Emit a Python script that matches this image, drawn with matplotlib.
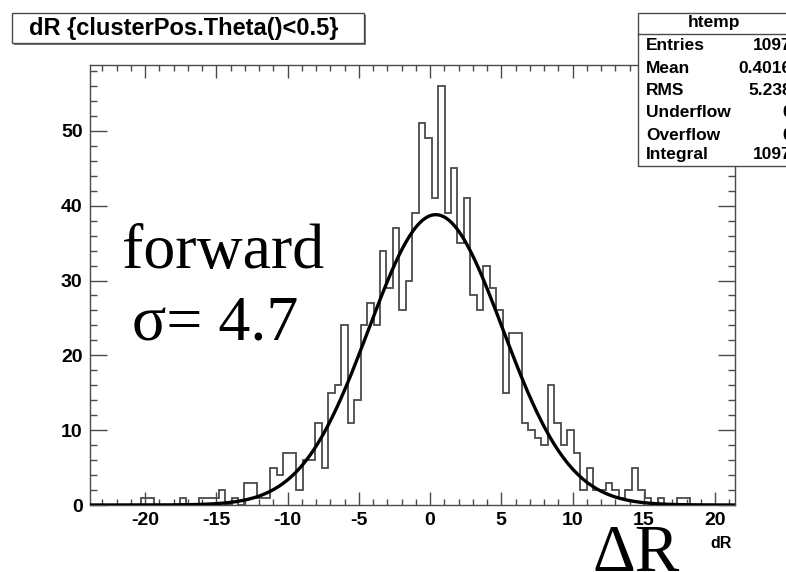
import numpy as np
import matplotlib
matplotlib.use('Agg')
import matplotlib.pyplot as plt
from matplotlib.patches import Rectangle
from matplotlib.lines import Line2D
from matplotlib.ticker import MultipleLocator

plt.rcParams['axes.unicode_minus'] = False

# ---------------- data ----------------
x_min, x_max, n_bins = -23.9, 21.4, 100
counts = [0, 0, 0, 0, 0, 0, 0, 0, 1, 1,
          0, 0, 0, 0, 1, 0, 0, 1, 1, 1,
          2, 0, 1, 0, 3, 3, 1, 1, 5, 4,
          7, 7, 2, 6, 6, 11, 5, 15, 16, 24,
          11, 14, 24, 27, 24, 34, 29, 37, 26, 30,
          39, 51, 49, 41, 56, 39, 45, 35, 41, 28,
          26, 32, 29, 26, 15, 23, 23, 11, 10, 9,
          8, 16, 11, 8, 10, 7, 2, 5, 2, 2,
          3, 2, 1, 2, 5, 2, 1, 0, 1, 0,
          0, 1, 1, 0, 0, 0, 0, 0, 0, 0]
fit_constant = 38.8
fit_mean = 0.4
fit_sigma = 4.7
x_ticks = [-20, -15, -10, -5, 0, 5, 10, 15, 20]
y_ticks = [0, 10, 20, 30, 40, 50]
title = "dR {clusterPos.Theta()<0.5}"
stats_name = "htemp"
stats_labels = ["Entries", "Mean", "RMS", "Underflow", "Overflow", "Integral"]
stats_values = ["1097", "0.4016", "5.238", "0", "0", "1097"]

# ---------------- figure ----------------
W, H = 786, 572
fig = plt.figure(figsize=(W / 100, H / 100), dpi=100)
fig.patch.set_facecolor('white')

def fx(px):
    return px / W

def fy(py):
    return 1 - py / H

ax_l, ax_r, ax_t, ax_b = 89.5, 735.0, 65.0, 505.0
ax = fig.add_axes([fx(ax_l), fy(ax_b), (ax_r - ax_l) / W, (ax_b - ax_t) / H])

edges = np.linspace(x_min, x_max, n_bins + 1)
ax.stairs(counts, edges, color='#4a4a4a', lw=1.3, zorder=2)

xf = np.linspace(x_min, x_max, 600)
yf = fit_constant * np.exp(-0.5 * ((xf - fit_mean) / fit_sigma) ** 2)
ax.plot(xf, yf, color='black', lw=2.4, zorder=3, solid_capstyle='butt')

ax.set_xlim(x_min, x_max)
ax.set_ylim(0, 58.8)

frame_col = '#4a4a4a'
for s in ax.spines.values():
    s.set_color(frame_col)
    s.set_linewidth(1.0)

ax.set_xticks(x_ticks)
ax.set_yticks(y_ticks)
ax.xaxis.set_minor_locator(MultipleLocator(1))
ax.yaxis.set_minor_locator(MultipleLocator(2))
ax.tick_params(axis='x', which='major', direction='in', length=9.5, width=1.0,
               top=True, bottom=True, color=frame_col, pad=5)
ax.tick_params(axis='x', which='minor', direction='in', length=4.5, width=1.0,
               top=True, bottom=True, color=frame_col)
ax.tick_params(axis='y', which='major', direction='in', length=12, width=1.0,
               left=True, right=True, color=frame_col, pad=5)
ax.tick_params(axis='y', which='minor', direction='in', length=5, width=1.0,
               left=True, right=True, color=frame_col)
for lab in ax.get_xticklabels() + ax.get_yticklabels():
    lab.set_fontfamily('Liberation Sans')
    lab.set_fontweight('bold')
    lab.set_fontsize(14)

# axis title "dR"
fig.text(fx(732), fy(543), "dR", ha='right', va='center',
         fontfamily='Liberation Sans', fontweight='bold', fontsize=11.5)

# ---------------- title box ----------------
fig.patches.append(Rectangle((fx(14), fy(45)), (366 - 14) / W, (45 - 15) / H,
                             transform=fig.transFigure, facecolor='#777777',
                             edgecolor='none', zorder=1))
fig.patches.append(Rectangle((fx(12), fy(43)), (364 - 12) / W, (43 - 13) / H,
                             transform=fig.transFigure, facecolor='white',
                             edgecolor='#4a4a4a', lw=1.0, zorder=2))
fig.text(fx(184), fy(28), title, ha='center', va='center',
         fontfamily='Liberation Sans', fontweight='bold', fontsize=17, zorder=3)

# ---------------- stats box ----------------
fig.patches.append(Rectangle((fx(637.5), fy(166)), (800 - 637.5) / W, (166 - 12.5) / H,
                             transform=fig.transFigure, facecolor='white',
                             edgecolor='#4a4a4a', lw=1.0, zorder=2))
fig.lines.append(Line2D([fx(637.5), fx(800)], [fy(34.3), fy(34.3)],
                        transform=fig.transFigure, color='#4a4a4a', lw=1.0, zorder=3))
fig.text(fx(714), fy(23), stats_name, ha='center', va='center',
         fontfamily='Liberation Sans', fontweight='bold', fontsize=12.5, zorder=4)
row_y = [46, 68.3, 90.7, 112.7, 135, 154.5]
for lab, val, yy in zip(stats_labels, stats_values, row_y):
    fig.text(fx(646), fy(yy), lab, ha='left', va='center',
             fontfamily='Liberation Sans', fontweight='bold', fontsize=12.5, zorder=4)
    fig.text(fx(792), fy(yy), val, ha='right', va='center',
             fontfamily='Liberation Sans', fontweight='bold', fontsize=12.5, zorder=4)

# ---------------- annotations ----------------
fig.text(fx(223), fy(268), "forward", ha='center', va='baseline',
         fontfamily='Liberation Serif', fontsize=46)
fig.text(fx(215), fy(340), "\u03c3= 4.7", ha='center', va='baseline',
         fontfamily='Liberation Serif', fontsize=46)
fig.text(fx(636), fy(571), "\u0394R", ha='center', va='baseline',
         fontfamily='Liberation Serif', fontsize=48)

fig.savefig('out.png', dpi=100)
